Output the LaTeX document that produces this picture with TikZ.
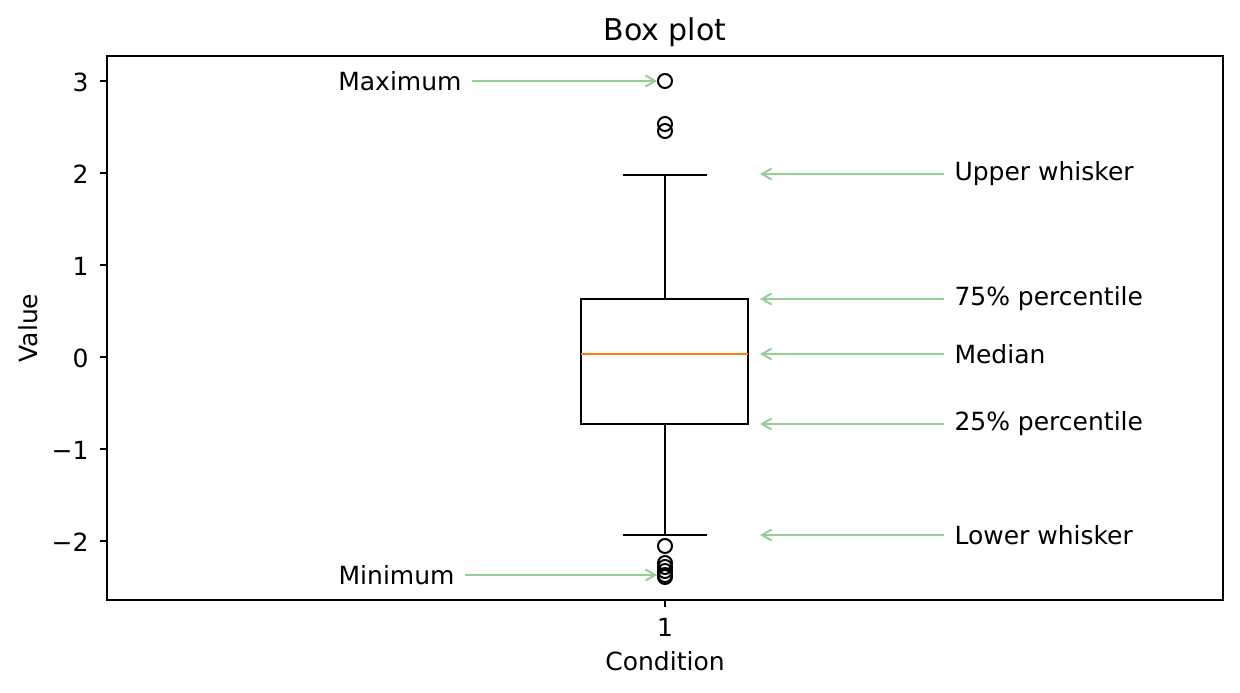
\documentclass[tikz,border=0pt]{standalone}
\usepackage{fontspec}
\setmainfont{DejaVu Sans}
\usetikzlibrary{arrows.meta}
\definecolor{arrowgreen}{HTML}{95CF95}
\definecolor{medianorange}{HTML}{FF7F0E}

\begin{document}
\begin{tikzpicture}[x=0.4pt,y=-0.4pt,
    txt/.style={font=\fontsize{10}{12}\selectfont, inner xsep=4pt, inner ysep=0pt},
    flier/.style={shape=circle, draw, line width=0.8pt, minimum size=5.6pt, inner sep=0pt},
    pointer/.style={-{Straight Barb[length=3.8pt,width=4.4pt]}, draw=arrowgreen, line width=0.8pt}]
    \useasboundingbox (0,0) rectangle (1240,693);
    % axes frame and ticks
    \draw[line width=0.9pt] (107,56) rectangle (1223,600);
    \draw[line width=0.9pt] (100,81) -- (107,81);
    \draw[line width=0.9pt] (100,173) -- (107,173);
    \draw[line width=0.9pt] (100,265) -- (107,265);
    \draw[line width=0.9pt] (100,357) -- (107,357);
    \draw[line width=0.9pt] (100,449) -- (107,449);
    \draw[line width=0.9pt] (100,541) -- (107,541);
    \draw[line width=0.9pt] (665,600) -- (665,607);
    \node[txt, anchor=east] (t3) at (99,82) {3};
    \node[txt, anchor=east] (t2) at (99,174) {2};
    \node[txt, anchor=east] (t1) at (99,266) {1};
    \node[txt, anchor=east] (t0) at (99,358) {0};
    \node[txt, anchor=east] (tm1) at (99,450) {−1};
    \node[txt, anchor=east] (tm2) at (99,542) {−2};
    \node[txt] (tx1) at (665,627) {1};
    \node[txt] (xlabel) at (665,661) {Condition};
    \node[txt, rotate=90] (ylabel) at (28,328) {Value};
    \node[font=\fontsize{12}{14}\selectfont] (title) at (665,32) {Box plot};
    % box and whiskers
    \draw[line width=0.9pt] (581,299) rectangle (748,424);
    \draw[line width=0.9pt, medianorange] (581,354) -- (748,354);
    \draw[line width=0.9pt] (665,299) -- (665,175);
    \draw[line width=0.9pt] (623,175) -- (707,175);
    \draw[line width=0.9pt] (665,424) -- (665,535);
    \draw[line width=0.9pt] (623,535) -- (707,535);
    % fliers
    \node[flier] (max) at (665,81) {};
    \node[flier] (f1) at (665,124) {};
    \node[flier] (f2) at (665,131) {};
    \node[flier] (f3) at (665,546) {};
    \node[flier] (f4) at (665,563) {};
    \node[flier] (f5) at (665,567) {};
    \node[flier] (f6) at (665,571) {};
    \node[flier] (f7) at (665,577) {};
    \node[flier] (min) at (665,575) {};
    % annotations
    \node[txt, anchor=east] (maxlabel) at (472,81) {Maximum};
    \node[txt, anchor=east] (minlabel) at (465,575) {Minimum};
    \node[txt, anchor=west] (uwlabel) at (944,174) {Upper whisker};
    \node[txt, anchor=west] (q3label) at (944,299) {75\% percentile};
    \node[txt, anchor=west] (medlabel) at (944,354) {Median};
    \node[txt, anchor=west] (q1label) at (944,424) {25\% percentile};
    \node[txt, anchor=west] (lwlabel) at (944,535) {Lower whisker};
    \coordinate (uw) at (760,174);
    \coordinate (q3) at (760,299);
    \coordinate (med) at (760,354);
    \coordinate (q1) at (760,424);
    \coordinate (lw) at (760,535);
    \draw[pointer] (maxlabel) -- (max);
    \draw[pointer] (minlabel) -- (min);
    \draw[pointer] (uwlabel) -- (uw);
    \draw[pointer] (q3label) -- (q3);
    \draw[pointer] (medlabel) -- (med);
    \draw[pointer] (q1label) -- (q1);
    \draw[pointer] (lwlabel) -- (lw);
\end{tikzpicture}
\end{document}
